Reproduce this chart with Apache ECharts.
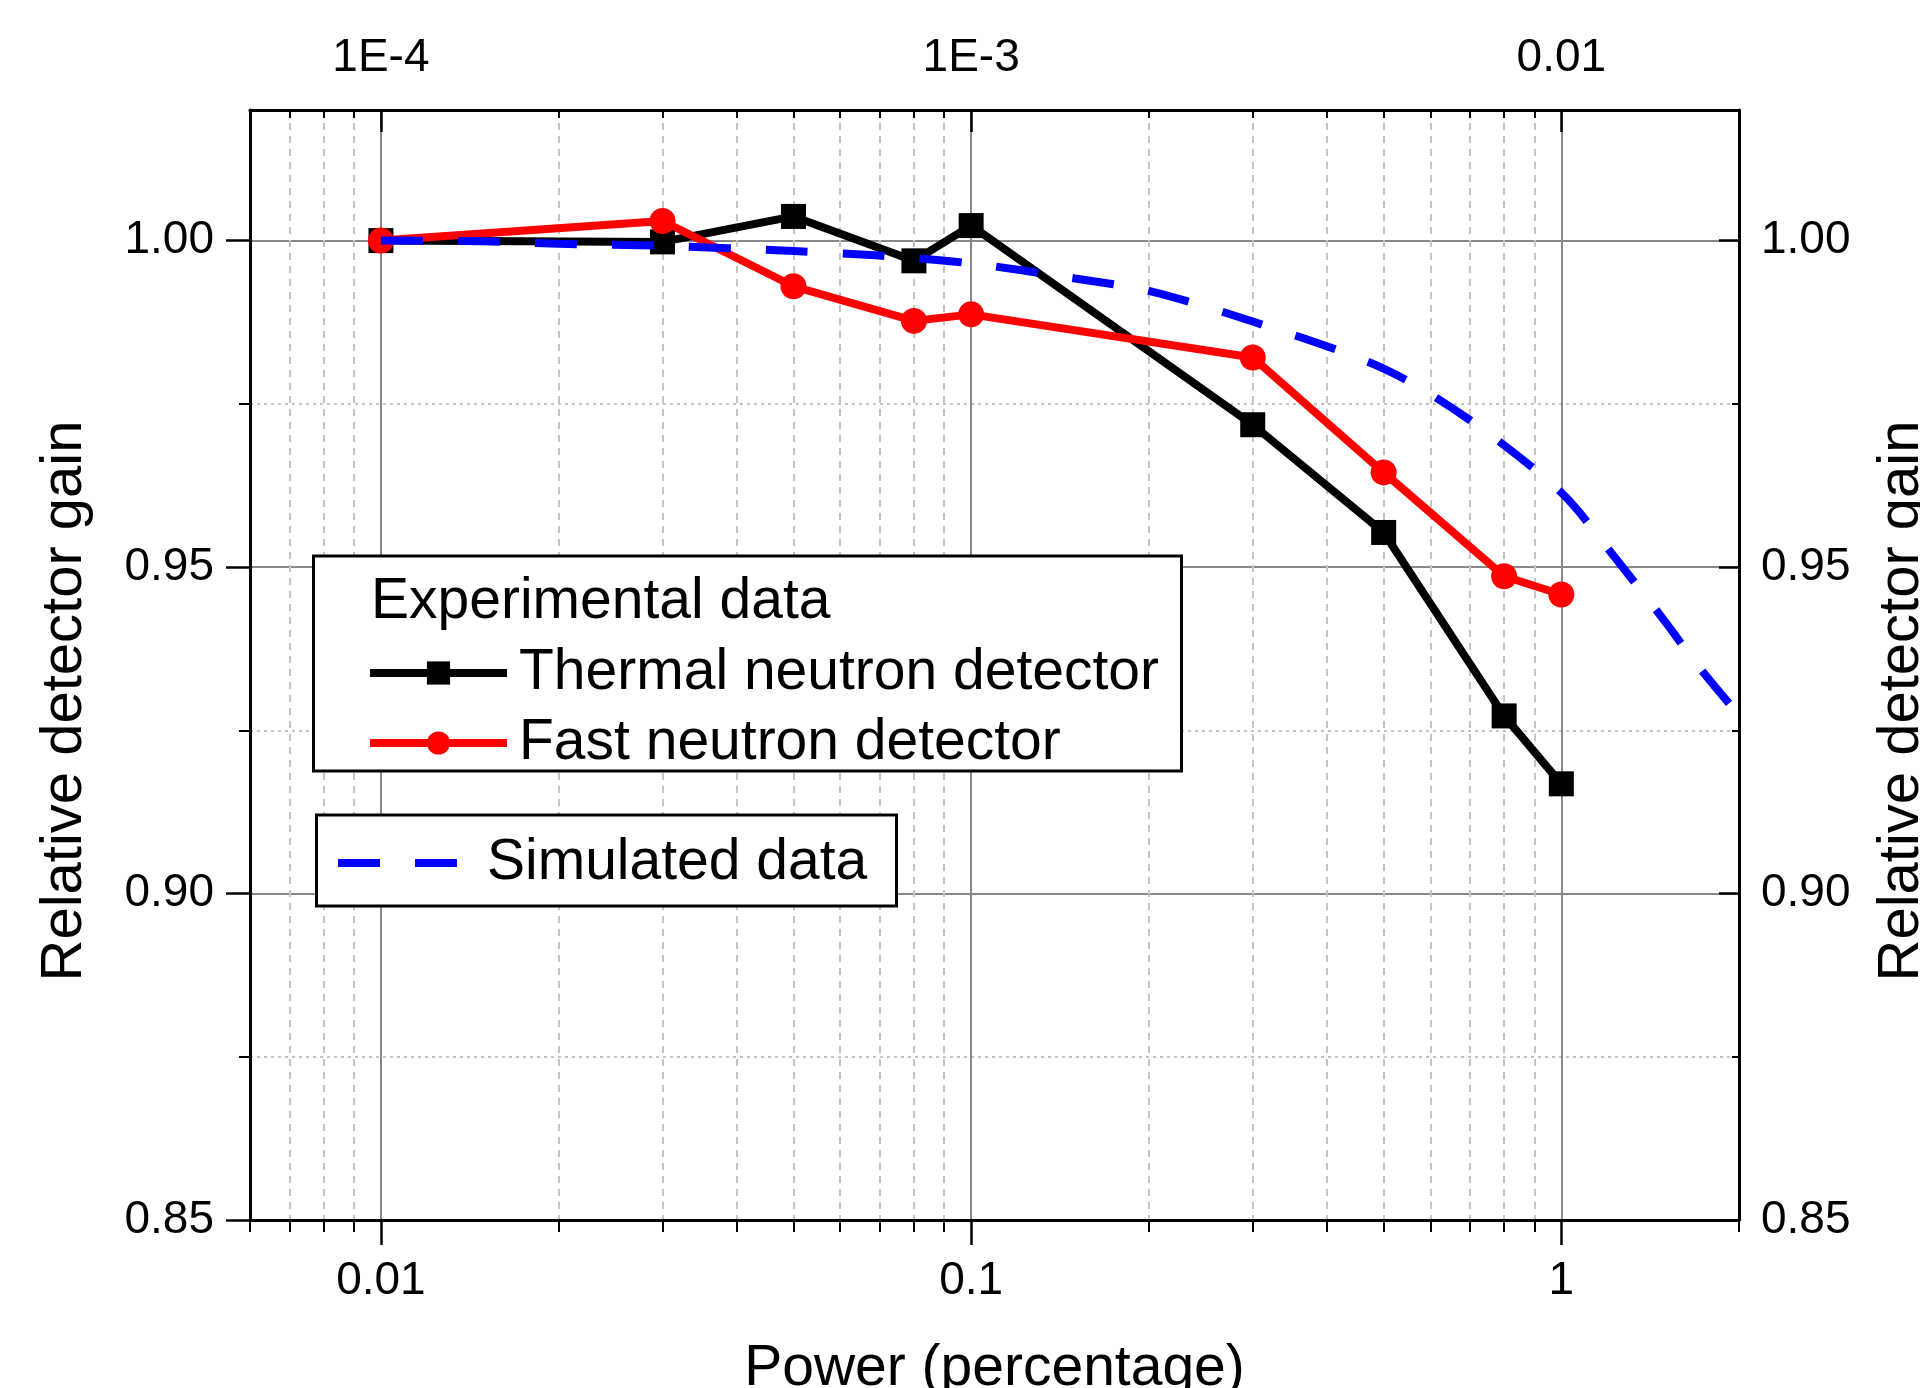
<!DOCTYPE html>
<html>
<head>
<meta charset="utf-8">
<script src="https://cdn.jsdelivr.net/npm/echarts@6/dist/echarts.min.js"></script>
<style>html,body{margin:0;padding:0;background:#fff}#c{width:1920px;height:1388px}</style>
</head>
<body>
<div id="c"></div>
<script>
// ---- data ----
const powerX = [0.01, 0.03, 0.05, 0.08, 0.1, 0.3, 0.5, 0.8, 1];
const thermalGain = [1.000, 0.9998, 1.0037, 0.9969, 1.0023, 0.9718, 0.9553, 0.9272, 0.9168];
const fastGain = [1.000, 1.0030, 0.9930, 0.9877, 0.9887, 0.9821, 0.9645, 0.9486, 0.9458];
const simX = [0.01, 0.015, 0.02, 0.03, 0.05, 0.07, 0.1, 0.15, 0.2, 0.3, 0.5, 0.7, 1, 1.2, 1.5, 1.7, 2];
const simGain = [1.0000, 0.9999, 0.9995, 0.9992, 0.9984, 0.9977, 0.9965, 0.9942, 0.9923, 0.9876, 0.9804, 0.9725, 0.9614, 0.9528, 0.9416, 0.9350, 0.9273];

const xMajorTicks = [0.01, 0.1, 1];
const xBottomLabels = ['0.01', '0.1', '1'];
const xTopLabels = ['1E-4', '1E-3', '0.01'];
const xMinorTicks = [0.006, 0.007, 0.008, 0.009,
  0.02, 0.03, 0.04, 0.05, 0.06, 0.07, 0.08, 0.09,
  0.2, 0.3, 0.4, 0.5, 0.6, 0.7, 0.8, 0.9, 2];
const yMajorTicks = [0.85, 0.90, 0.95, 1.00];
const yMinorTicks = [0.875, 0.925, 0.975];

const seriesNames = ['Thermal neutron detector', 'Fast neutron detector', 'Simulated data'];
const legendTitle = 'Experimental data';
const xName = 'Power (percentage)';
const yName = 'Relative detector gain';

// ---- chart ----
const FONT = '"Liberation Sans", Arial, sans-serif';
const X_MIN = 0.006, X_MAX = 2, Y_MIN = 0.85, Y_MAX = 1.02;

function labelFor(list) {
  return function (v) {
    const i = xMajorTicks.findIndex(t => Math.abs(Math.log10(t) - Math.log10(v)) < 1e-6);
    return i >= 0 ? list[i] : '';
  };
}
const tickLabelStyle = { fontSize: 46, fontFamily: FONT, color: '#000' };
const frameLine = { show: true, onZero: false, lineStyle: { color: '#000', width: 3 } };
const noLine = { show: false, onZero: false };

const chart = echarts.init(document.getElementById('c'), null, { renderer: 'canvas' });
chart.setOption({
  animation: false,
  backgroundColor: '#fff',
  grid: { left: 250, right: 181, top: 110, bottom: 168, containLabel: false, outerBoundsMode: 'none' },
  xAxis: [
    { // bottom major
      type: 'log', logBase: 10, min: X_MIN, max: X_MAX, position: 'bottom',
      axisLine: frameLine,
      axisTick: { show: true, customValues: xMajorTicks, length: 25, lineStyle: { color: '#000', width: 2.5 } },
      axisLabel: { show: true, customValues: xMajorTicks, margin: 38, formatter: labelFor(xBottomLabels), ...tickLabelStyle },
      splitLine: { show: true, lineStyle: { color: '#888', width: 2, type: 'solid' } },
      name: xName, nameLocation: 'middle', nameGap: 121,
      nameTextStyle: { fontSize: 57, fontFamily: FONT, color: '#000' }
    },
    { // bottom minor
      type: 'log', logBase: 10, min: X_MIN, max: X_MAX, position: 'bottom',
      axisLine: noLine,
      axisTick: { show: true, customValues: xMinorTicks, length: 12, lineStyle: { color: '#000', width: 2 } },
      axisLabel: { show: false },
      splitLine: { show: true, lineStyle: { color: '#c4c4c4', width: 2, type: [7, 6] } }
    },
    { // top major
      type: 'log', logBase: 10, min: X_MIN, max: X_MAX, position: 'top',
      axisLine: frameLine,
      axisTick: { show: true, inside: true, customValues: xMajorTicks, length: 22, lineStyle: { color: '#000', width: 2.5 } },
      axisLabel: { show: true, customValues: xMajorTicks, margin: 29, formatter: labelFor(xTopLabels), ...tickLabelStyle },
      splitLine: { show: false }
    },
    { // top minor
      type: 'log', logBase: 10, min: X_MIN, max: X_MAX, position: 'top',
      axisLine: noLine,
      axisTick: { show: true, inside: true, customValues: xMinorTicks, length: 8, lineStyle: { color: '#000', width: 2 } },
      axisLabel: { show: false },
      splitLine: { show: false }
    }
  ],
  yAxis: [
    { // left major
      type: 'value', min: Y_MIN, max: Y_MAX, position: 'left',
      axisLine: frameLine,
      axisTick: { show: true, customValues: yMajorTicks, length: 24, lineStyle: { color: '#000', width: 2.5 } },
      axisLabel: { show: true, customValues: yMajorTicks, margin: 36, formatter: v => v.toFixed(2), ...tickLabelStyle },
      splitLine: { show: true, lineStyle: { color: '#888', width: 2, type: 'solid' } },
      name: yName, nameLocation: 'middle', nameGap: 156,
      nameTextStyle: { fontSize: 58, fontFamily: FONT, color: '#000', padding: [0, 72, 0, 0] }
    },
    { // left minor
      type: 'value', min: Y_MIN, max: Y_MAX, position: 'left',
      axisLine: noLine,
      axisTick: { show: true, customValues: yMinorTicks, length: 11, lineStyle: { color: '#000', width: 2 } },
      axisLabel: { show: false },
      splitLine: { show: true, lineStyle: { color: '#c4c4c4', width: 2, type: [3, 4] } }
    },
    { // right major
      type: 'value', min: Y_MIN, max: Y_MAX, position: 'right',
      axisLine: frameLine,
      axisTick: { show: true, inside: true, customValues: yMajorTicks, length: 20, lineStyle: { color: '#000', width: 2.5 } },
      axisLabel: { show: true, customValues: yMajorTicks, margin: 22, formatter: v => v.toFixed(2), ...tickLabelStyle },
      splitLine: { show: false },
      name: yName, nameLocation: 'middle', nameGap: 134,
      nameTextStyle: { fontSize: 58, fontFamily: FONT, color: '#000', padding: [0, 72, 0, 0] }
    },
    { // right minor
      type: 'value', min: Y_MIN, max: Y_MAX, position: 'right',
      axisLine: noLine,
      axisTick: { show: true, inside: true, customValues: yMinorTicks, length: 7, lineStyle: { color: '#000', width: 2 } },
      axisLabel: { show: false },
      splitLine: { show: false }
    }
  ],
  graphic: [
    { type: 'rect', shape: { x: 313.5, y: 556, width: 868, height: 215 },
      style: { fill: '#fff', stroke: '#000', lineWidth: 3 }, z: 5 },
    { type: 'text', x: 371, y: 602, z: 6,
      style: { text: legendTitle, font: '57px ' + FONT, fill: '#000', align: 'left', verticalAlign: 'middle' } },
    { type: 'rect', shape: { x: 316.5, y: 815, width: 580, height: 91 },
      style: { fill: '#fff', stroke: '#000', lineWidth: 3 }, z: 5 }
  ],
  legend: [
    {
      data: [seriesNames[0], seriesNames[1]],
      orient: 'vertical', left: 366, top: 643, padding: 0,
      itemWidth: 137, itemHeight: 29, itemGap: 10,
      selectedMode: false, z: 10,
      lineStyle: { width: 8 },
      textStyle: { fontSize: 57, fontFamily: FONT, color: '#000', lineHeight: 60, padding: [0, 0, 0, 7] }
    },
    {
      data: [{ name: seriesNames[2], icon: 'path://M0,0h42v8h-42z M77,0h42v8h-42z' }],
      orient: 'vertical', left: 338, top: 833, padding: 0,
      itemWidth: 119, itemHeight: 8,
      selectedMode: false, z: 10,
      itemStyle: { color: '#0000ff', borderWidth: 0 },
      textStyle: { fontSize: 57, fontFamily: FONT, color: '#000', lineHeight: 60, padding: [0, 0, 0, 25] }
    }
  ],
  series: [
    {
      name: seriesNames[0], type: 'line', xAxisIndex: 0, yAxisIndex: 0,
      data: powerX.map((x, i) => [x, thermalGain[i]]),
      symbol: 'rect', symbolSize: 25, showAllSymbol: true,
      lineStyle: { color: '#000', width: 8 },
      itemStyle: { color: '#000', borderWidth: 0 },
      z: 2
    },
    {
      name: seriesNames[1], type: 'line', xAxisIndex: 0, yAxisIndex: 0,
      data: powerX.map((x, i) => [x, fastGain[i]]),
      symbol: 'circle', symbolSize: 26, showAllSymbol: true,
      lineStyle: { color: '#ff0000', width: 8 },
      itemStyle: { color: '#ff0000', borderWidth: 0 },
      z: 3
    },
    {
      name: seriesNames[2], type: 'line', xAxisIndex: 0, yAxisIndex: 0,
      data: simX.map((x, i) => [x, simGain[i]]),
      symbol: 'none', smooth: 0.3,
      lineStyle: { color: '#0000ff', width: 8, type: [42, 35] },
      itemStyle: { color: '#0000ff' },
      z: 4
    }
  ]
});
</script>
</body>
</html>
